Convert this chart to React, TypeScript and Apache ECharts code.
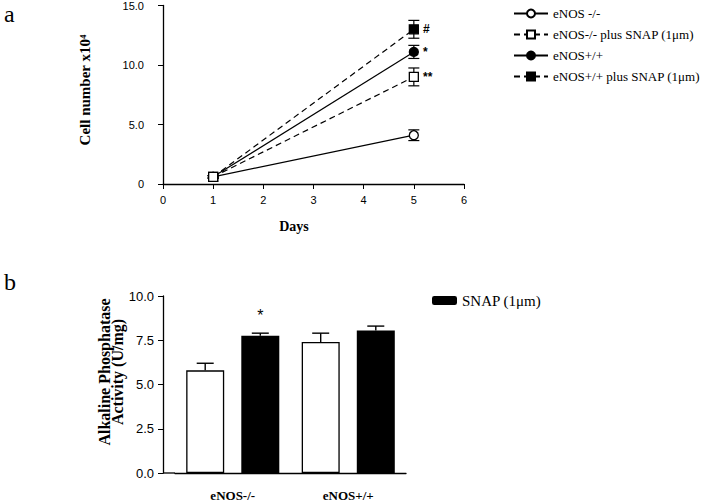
import React, { useEffect, useRef } from "react";
import * as echarts from "echarts";

// ---- panel a data ----
const days = [1, 5];
const koMean = [0.6, 4.1];
const koErr = [0.1, 0.45];
const koSnapMean = [0.6, 9.0];
const koSnapErr = [0.1, 0.75];
const wtMean = [0.6, 11.1];
const wtErr = [0.1, 0.55];
const wtSnapMean = [0.6, 13.0];
const wtSnapErr = [0.1, 0.75];
const xTicksA = [0, 6];
const yTicksA = [0, 15, 5];

const seriesNamesA = [
  "eNOS -/-",
  "eNOS-/- plus SNAP (1μm)",
  "eNOS+/+",
  "eNOS+/+ plus SNAP (1μm)",
];
const marksA = ["", "**", "*", "#"];

// ---- panel b data ----
const categoriesB = ["eNOS-/-", "eNOS+/+"];
const controlMean = [5.8, 7.4];
const controlErr = [0.4, 0.5];
const snapMean = [7.75, 8.05];
const snapErr = [0.15, 0.25];
const yTicksB = [0, 10, 2.5];

const BAR_W = 38;
const BAR_GAP = 0.45;

const SERIF = "'Liberation Serif', 'Times New Roman', serif";
const SANS = "'Liberation Sans', Arial, sans-serif";

export default function App() {
  const ref = useRef<HTMLDivElement>(null);

  useEffect(() => {
    if (!ref.current) return;
    const chart = echarts.init(ref.current, null, { renderer: "svg" });

    const pts = (m: number[]) => days.map((d, i) => [d, m[i]]);
    const lineSeries = (
      name: string,
      mean: number[],
      symbol: string,
      open: boolean,
      dashed: boolean,
      mark: string,
      z: number
    ) => ({
      name,
      type: "line",
      xAxisIndex: 0,
      yAxisIndex: 0,
      z,
      data: pts(mean).map((p, i) =>
        i === mean.length - 1 && mark
          ? {
              value: p,
              label: {
                show: true,
                formatter: mark,
                position: "right",
                distance: 4,
                color: "#000",
                fontFamily: SANS,
                fontSize: 12,
                fontWeight: "bold",
              },
            }
          : { value: p }
      ),
      symbol,
      symbolSize: 9,
      showSymbol: true,
      itemStyle: { color: open ? "#fff" : "#000", borderColor: "#000", borderWidth: 1.3 },
      lineStyle: { color: "#000", width: 1.2, type: dashed ? [6, 4] : "solid" },
      emphasis: { disabled: true },
    });

    const errA = (mean: number[], err: number[]) => ({
      type: "custom",
      xAxisIndex: 0,
      yAxisIndex: 0,
      z: 1,
      silent: true,
      data: days.map((d, i) => [d, mean[i], err[i]]),
      renderItem: (params: any, api: any) => {
        const x = api.value(0);
        const y = api.value(1);
        const e = api.value(2);
        const hi = api.coord([x, y + e]);
        const lo = api.coord([x, y - e]);
        const h = 5.5;
        const st = { stroke: "#000", lineWidth: 1.2 };
        return {
          type: "group",
          children: [
            { type: "line", shape: { x1: hi[0], y1: hi[1], x2: lo[0], y2: lo[1] }, style: st },
            { type: "line", shape: { x1: hi[0] - h, y1: hi[1], x2: hi[0] + h, y2: hi[1] }, style: st },
            { type: "line", shape: { x1: lo[0] - h, y1: lo[1], x2: lo[0] + h, y2: lo[1] }, style: st },
          ],
        };
      },
    });

    const barOffset = (BAR_W + BAR_W * BAR_GAP) / 2;
    const errB = (mean: number[], err: number[], side: number) => ({
      type: "custom",
      xAxisIndex: 1,
      yAxisIndex: 1,
      z: 1,
      silent: true,
      data: categoriesB.map((_, i) => [i, mean[i], err[i]]),
      renderItem: (params: any, api: any) => {
        const c = api.value(0);
        const y = api.value(1);
        const e = api.value(2);
        const top = api.coord([c, y]);
        const hi = api.coord([c, y + e]);
        const x = top[0] + side * barOffset;
        const h = 8.5;
        const st = { stroke: "#000", lineWidth: 1.4 };
        return {
          type: "group",
          children: [
            { type: "line", shape: { x1: x, y1: top[1], x2: x, y2: hi[1] }, style: st },
            { type: "line", shape: { x1: x - h, y1: hi[1], x2: x + h, y2: hi[1] }, style: st },
          ],
        };
      },
    });

    const axisLine = { show: true, lineStyle: { color: "#000", width: 1.3 } };

    chart.setOption({
      animation: false,
      backgroundColor: "#fff",
      grid: [
        { left: 163, top: 5, width: 301, height: 179 },
        { left: 175, top: 296, width: 231, height: 177 },
      ],
      legend: [
        {
          orient: "vertical",
          left: 508,
          top: 2,
          itemWidth: 34,
          itemHeight: 10,
          itemGap: 8,
          data: seriesNamesA,
          textStyle: { fontFamily: SERIF, fontSize: 13, color: "#000" },
          selectedMode: false,
        },
        {
          left: 427,
          top: 288,
          itemWidth: 25,
          itemHeight: 9,
          data: ["SNAP (1μm)"],
          textStyle: { fontFamily: SERIF, fontSize: 15, color: "#000" },
          selectedMode: false,
        },
      ],
      xAxis: [
        {
          type: "value",
          gridIndex: 0,
          min: xTicksA[0],
          max: xTicksA[1],
          interval: 1,
          axisLine,
          axisTick: { show: true, length: 5, lineStyle: { color: "#000" } },
          axisLabel: { color: "#000", fontFamily: SANS, fontSize: 11, margin: 10 },
          splitLine: { show: false },
        },
        {
          type: "category",
          gridIndex: 1,
          data: categoriesB,
          axisLine,
          axisTick: { show: false },
          axisLabel: { color: "#000", fontFamily: SERIF, fontSize: 13, fontWeight: "bold", margin: 16 },
        },
      ],
      yAxis: [
        {
          type: "value",
          gridIndex: 0,
          min: yTicksA[0],
          max: yTicksA[1],
          interval: yTicksA[2],
          axisLine,
          axisTick: { show: true, length: 5, lineStyle: { color: "#000" } },
          axisLabel: {
            color: "#000",
            fontFamily: SANS,
            fontSize: 11,
            margin: 19,
            formatter: (v: number) => (v === 0 ? "0" : v.toFixed(1)),
          },
          splitLine: { show: false },
        },
        {
          type: "value",
          gridIndex: 1,
          offset: 12,
          min: yTicksB[0],
          max: yTicksB[1],
          interval: yTicksB[2],
          axisLine,
          axisTick: { show: true, length: 5, lineStyle: { color: "#000" } },
          axisLabel: {
            color: "#000",
            fontFamily: SANS,
            fontSize: 13,
            margin: 9,
            formatter: (v: number) => v.toFixed(1),
          },
          splitLine: { show: false },
        },
      ],
      series: [
        lineSeries(seriesNamesA[3], wtSnapMean, "rect", false, true, marksA[3], 3),
        lineSeries(seriesNamesA[2], wtMean, "circle", false, false, marksA[2], 4),
        lineSeries(seriesNamesA[0], koMean, "circle", true, false, marksA[0], 5),
        lineSeries(seriesNamesA[1], koSnapMean, "rect", true, true, marksA[1], 6),
        errA(koMean, koErr),
        errA(koSnapMean, koSnapErr),
        errA(wtMean, wtErr),
        errA(wtSnapMean, wtSnapErr),
        {
          name: "Control",
          type: "bar",
          xAxisIndex: 1,
          yAxisIndex: 1,
          barWidth: BAR_W,
          barGap: BAR_GAP * 100 + "%",
          data: controlMean,
          itemStyle: { color: "#fff", borderColor: "#000", borderWidth: 1.3 },
          z: 2,
        },
        {
          name: "SNAP (1μm)",
          type: "bar",
          xAxisIndex: 1,
          yAxisIndex: 1,
          barWidth: BAR_W,
          data: snapMean.map((v, i) =>
            i === 0
              ? {
                  value: v,
                  label: {
                    show: true,
                    position: "top",
                    distance: 12,
                    formatter: "*",
                    color: "#000",
                    fontFamily: SANS,
                    fontSize: 16,
                  },
                }
              : { value: v }
          ),
          itemStyle: { color: "#000" },
          z: 2,
        },
        errB(controlMean, controlErr, -1),
        errB(snapMean, snapErr, 1),
      ],
      graphic: [
        { type: "text", left: 4, top: 2, style: { text: "a", font: `24px ${SERIF}`, fill: "#000" } },
        { type: "text", left: 4, top: 270, style: { text: "b", font: `24px ${SERIF}`, fill: "#000" } },
        {
          type: "text",
          x: 85,
          y: 90,
          rotation: Math.PI / 2,
          style: {
            text: "Cell number x10⁴",
            font: `bold 15px ${SERIF}`,
            fill: "#000",
            textAlign: "center",
            textVerticalAlign: "middle",
          },
        },
        {
          type: "text",
          x: 294,
          y: 226,
          style: {
            text: "Days",
            font: `bold 14px ${SERIF}`,
            fill: "#000",
            textAlign: "center",
            textVerticalAlign: "middle",
          },
        },
        {
          type: "text",
          x: 111,
          y: 372,
          rotation: Math.PI / 2,
          style: {
            text: "Alkaline Phosphatase\nActivity (U/mg)",
            font: `bold 16px ${SERIF}`,
            lineHeight: 13,
            fill: "#000",
            textAlign: "center",
            textVerticalAlign: "middle",
          },
        },
        {
          type: "line",
          shape: { x1: 163, y1: 473, x2: 175, y2: 473 },
          style: { stroke: "#000", lineWidth: 1.3 },
        },
      ],
    });

    return () => chart.dispose();
  }, []);

  return (
    <div
      ref={ref}
      style={{ position: "fixed", left: 0, top: 0, width: 720, height: 504, background: "#fff" }}
    />
  );
}
